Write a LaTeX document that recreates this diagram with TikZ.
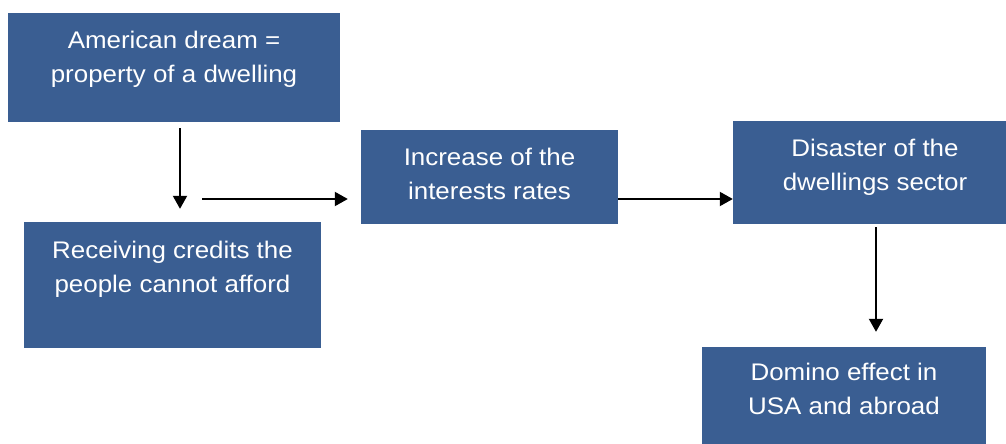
\documentclass[tikz,border=0pt]{standalone}
\usepackage{fontspec}
\setmainfont{Liberation Sans}[FakeStretch=1.08]
\usetikzlibrary{arrows.meta}
\definecolor{boxblue}{HTML}{3A5E92}
\tikzset{
  every picture/.style={line join=round, >={Triangle[length=13pt,width=14pt]}},
  flowbox/.style={fill=boxblue, text=white, align=center, inner sep=0pt, font=\fontsize{24}{34}\selectfont, text depth=#1},
  flowarrow/.style={->, line width=2pt},
}

\begin{document}
\begin{tikzpicture}[x=1pt,y=-1pt]
\path[use as bounding box,clip] (0,0) rectangle (1006,444);
\node[flowbox=21.5pt,minimum width=332pt,minimum height=109pt] (dream) at (174,67.5) {American dream =\\property of a dwelling};
\node[flowbox=37pt,minimum width=297pt,minimum height=126pt] (credits) at (172.5,285) {Receiving credits the\\people cannot afford};
\node[flowbox=7pt,minimum width=257pt,minimum height=94pt] (rates) at (489.5,177) {Increase of the\\interests rates};
\node[flowbox=15pt,minimum width=284pt,minimum height=103pt] (disaster) at (875,172.5) {Disaster of the\\dwellings sector};
\node[flowbox=16.5pt,minimum width=284pt,minimum height=100pt] (domino) at (844,397) {Domino effect in\\USA and abroad};
\coordinate (ratesin) at (202,199);
\draw[flowarrow,shorten <=6pt,shorten >=13pt] ([xshift=6pt]dream.south) -- ([xshift=6pt]dream.south |- credits.north);
\draw[flowarrow,shorten >=13pt] (ratesin) -- (ratesin -| rates.west);
\draw[flowarrow] (rates.east |- ratesin) -- (disaster.west |- ratesin);
\draw[flowarrow,shorten <=3pt,shorten >=15pt] ([xshift=1pt]disaster.south) -- ([xshift=1pt]disaster.south |- domino.north);
\end{tikzpicture}
\end{document}
